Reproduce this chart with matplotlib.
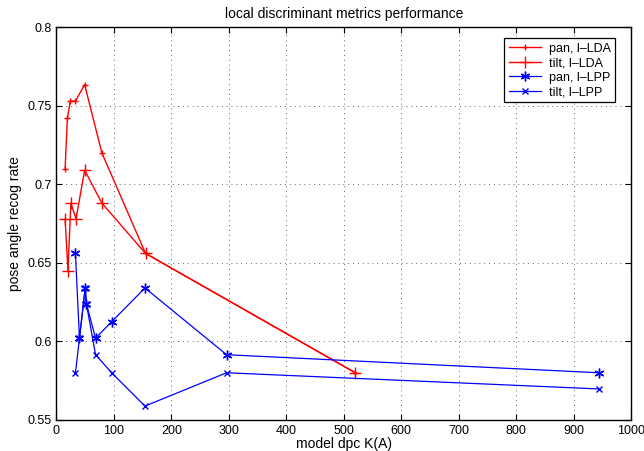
import matplotlib
matplotlib.use("Agg")
import matplotlib.pyplot as plt

plt.rcParams['font.family'] = ['Liberation Sans', 'DejaVu Sans']
plt.rcParams['font.size'] = 9

# data
lda_x = [15, 19, 24, 33, 49, 79, 155, 520]
pan_lda = [0.710, 0.742, 0.753, 0.753, 0.7635, 0.720, 0.656, 0.580]
tilt_lda_x = [15, 20, 25, 34, 49, 79, 155, 520]
tilt_lda = [0.678, 0.645, 0.688, 0.678, 0.709, 0.688, 0.656, 0.580]

lpp_x = [33, 40, 50, 52, 68, 96, 154, 296, 944]
pan_lpp = [0.656, 0.602, 0.634, 0.624, 0.602, 0.6125, 0.634, 0.5915, 0.580]
tilt_lpp = [0.580, 0.602, 0.634, 0.624, 0.5915, 0.580, 0.5588, 0.580, 0.5697]

xticks = list(range(0, 1001, 100))
yticks = [0.55, 0.6, 0.65, 0.7, 0.75, 0.8]

fig = plt.figure(figsize=(6.44, 4.51), dpi=100)
ax = fig.add_axes([0.0877, 0.069, 0.8923, 0.8705])

ax.plot(lda_x, pan_lda, color='red', marker='+', markersize=4, lw=1, label='pan, l\u2013LDA')
ax.plot(tilt_lda_x, tilt_lda, color='red', marker='+', markersize=8, lw=1, label='tilt, l\u2013LDA')
ax.plot(lpp_x, pan_lpp, color='blue', marker=(6, 2, 0), markersize=7, lw=0.9, label='pan, l\u2013LPP')
ax.plot(lpp_x, tilt_lpp, color='blue', marker='x', markersize=4, lw=0.9, label='tilt, l\u2013LPP')

ax.set_xlim(0, 1000)
ax.set_ylim(0.55, 0.8)
ax.set_xticks(xticks)
ax.set_yticks(yticks)
ax.set_xticklabels([str(t) for t in xticks])
ax.set_yticklabels(['0.55', '0.6', '0.65', '0.7', '0.75', '0.8'])
ax.grid(True, linestyle=(0, (1, 4)), color='#666666', linewidth=0.7)
ax.tick_params(direction='in', length=4, width=0.8, top=True, right=True, labelsize=9)
ax.tick_params(axis='x', pad=4)
for s in ax.spines.values():
    s.set_linewidth(1.0)

ax.set_title('local discriminant metrics performance', fontsize=10, pad=7)
ax.set_xlabel('model dpc K(A)', fontsize=10, va='center')
ax.xaxis.set_label_coords(0.5, -0.061)
ax.set_ylabel('pose angle recog rate', fontsize=10, labelpad=4)

leg = ax.legend(loc='upper right', bbox_to_anchor=(0.983, 0.988), fancybox=False,
                edgecolor='black', framealpha=1, handlelength=2.6, borderpad=0.35,
                labelspacing=0.2, handletextpad=0.6, fontsize=9)
leg.get_frame().set_linewidth(0.9)

fig.savefig('out.png', dpi=100)
